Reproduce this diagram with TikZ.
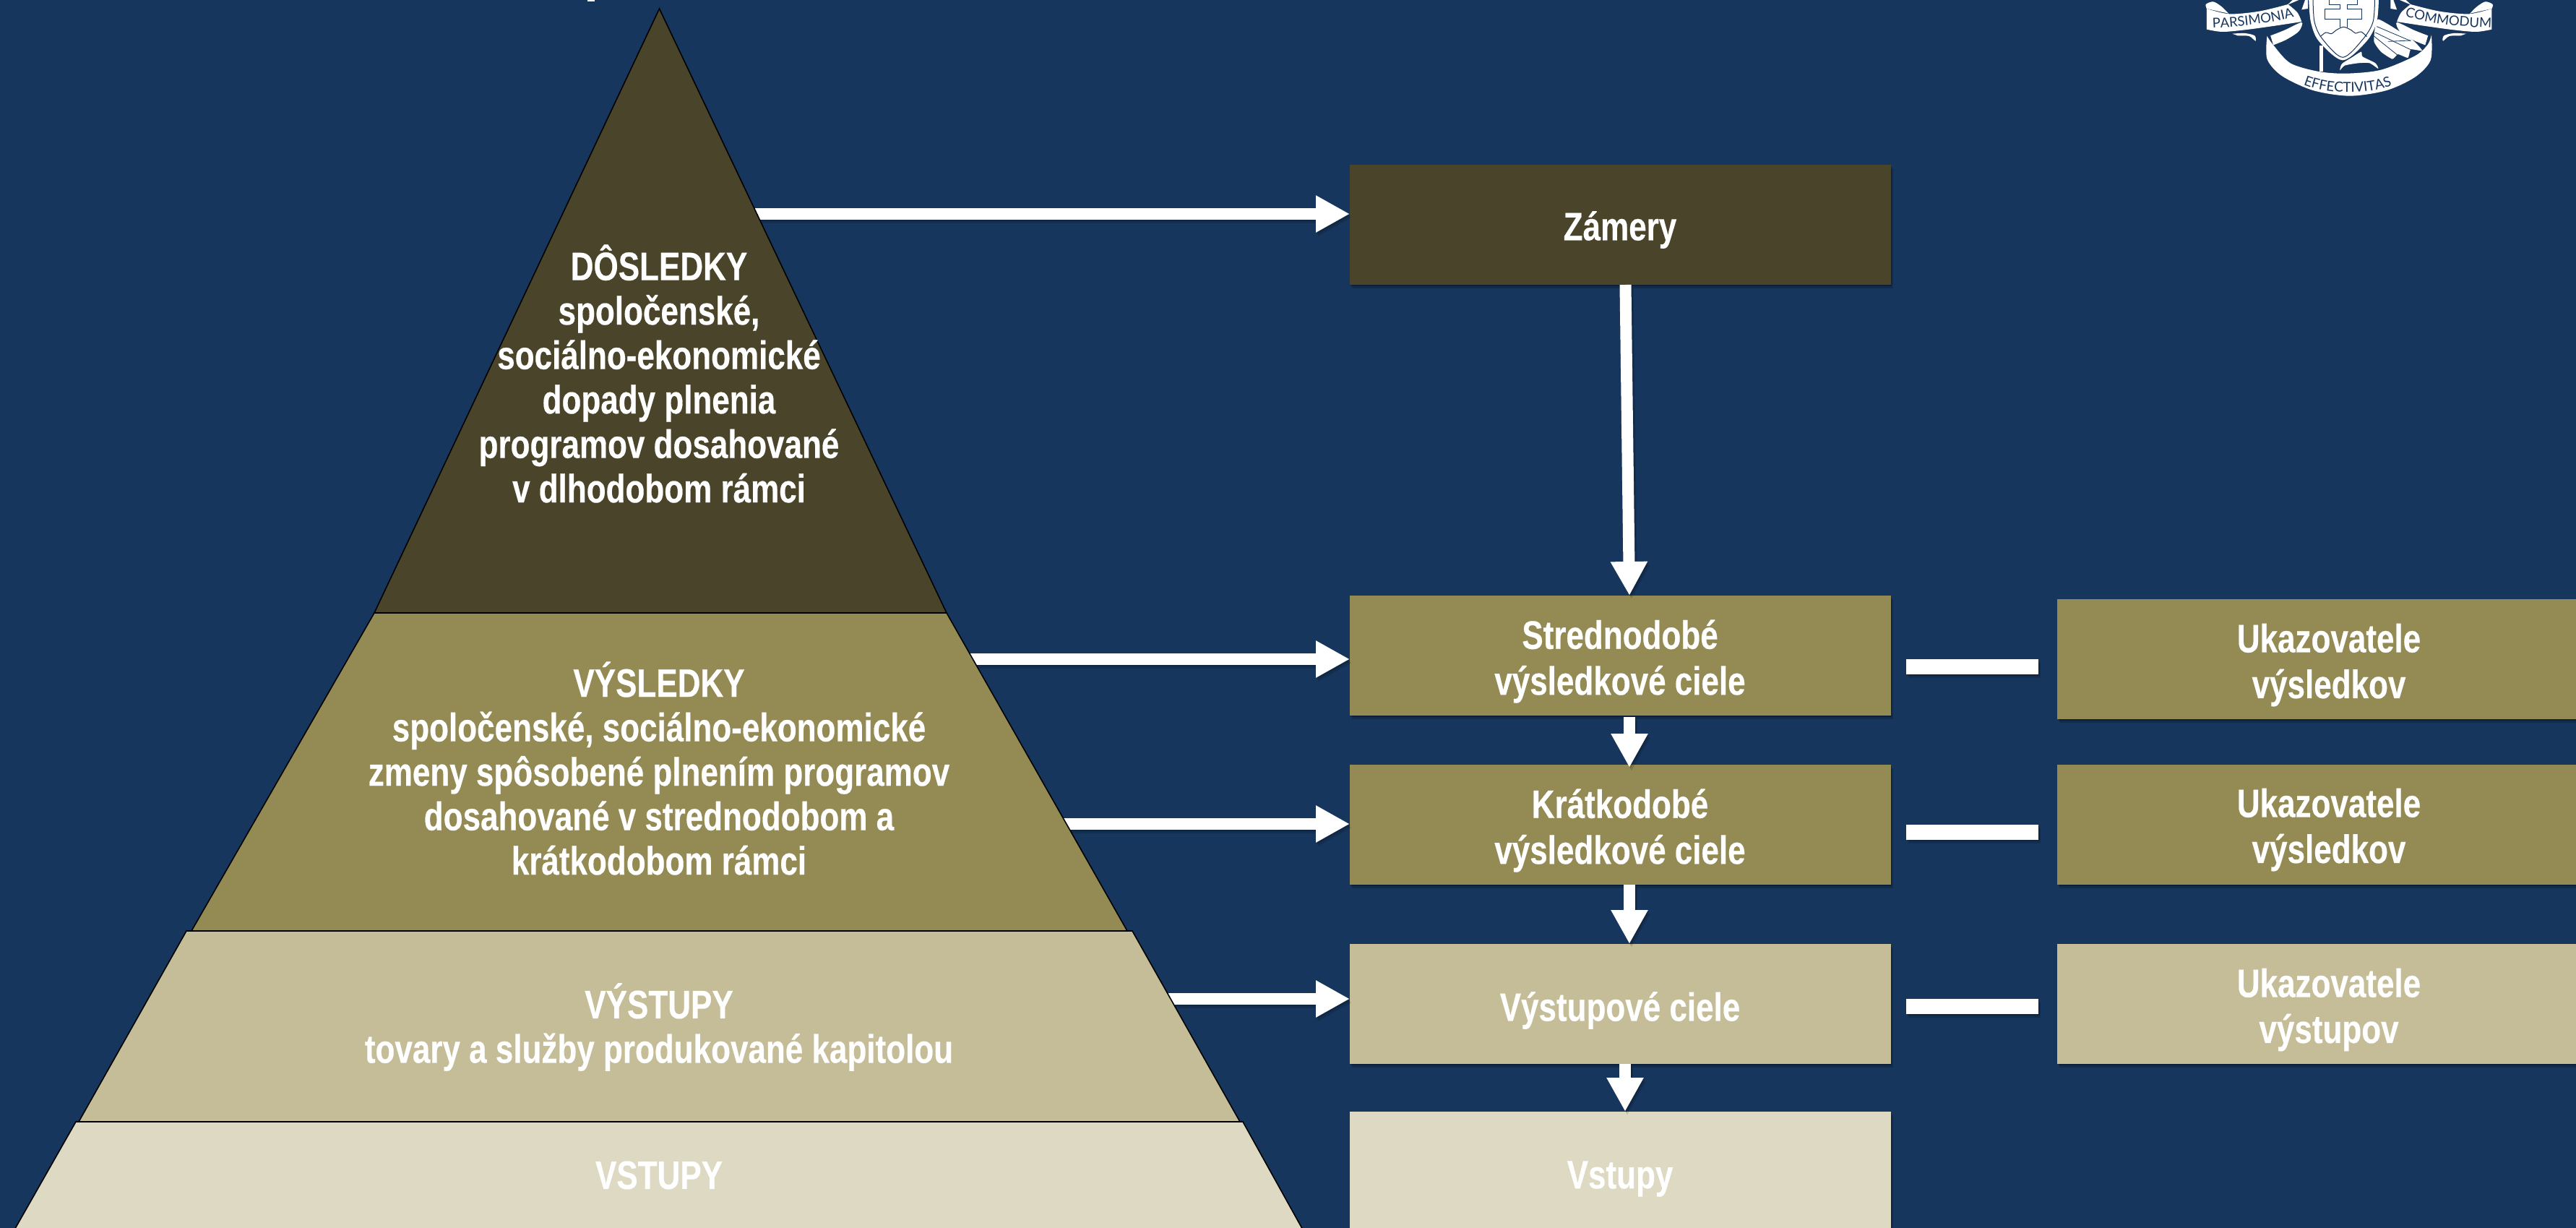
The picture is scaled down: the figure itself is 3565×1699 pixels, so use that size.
\documentclass[tikz,border=0pt]{standalone}
\usepackage{fontspec}
\usetikzlibrary{arrows.meta,shadows,decorations.text}
\newfontfamily\labfont[FakeStretch=0.80,FakeBold=0.35]{Liberation Sans}
\newfontfamily\emblemfont{Lato}
\definecolor{bgblue}{HTML}{17365D}
\definecolor{darkol}{HTML}{4A452A}
\definecolor{olive}{HTML}{948A54}
\definecolor{tan}{HTML}{C4BD97}
\definecolor{beige}{HTML}{DDD9C3}
\tikzset{
  lab/.style={text=white,align=center,inner sep=0pt,font=\labfont\bfseries\fontsize{55}{61.5}\selectfont},
  labbox/.style={lab,font=\labfont\bfseries\fontsize{55}{63.5}\selectfont},
  boxn/.style={rectangle,minimum width=#1,minimum height=166pt,inner sep=0pt,
     drop shadow={shadow xshift=1.5pt,shadow yshift=-2pt,opacity=.25,fill=black},
     drop shadow={shadow xshift=3pt,shadow yshift=-5pt,opacity=.18,fill=black}},
  layer/.style={draw=black,line width=1.6pt,line join=miter},
  conn/.style={draw=white,line width=16pt,-{Triangle[length=47pt,width=48pt]}},
  connshadow/.style={draw=black,opacity=.14,line width=16pt,-{Triangle[length=47pt,width=48pt]}},
  dashline/.style={draw=white,line width=21pt},
  dashshadow/.style={draw=black,opacity=.16,line width=21pt},
}
\newcommand\linkit[2]{%
  \draw[connshadow,transform canvas={xshift=1.5pt,yshift=-2pt}] (#1) -- (#2);
  \draw[connshadow,transform canvas={xshift=3pt,yshift=-5pt}] (#1) -- (#2);
  \draw[conn] (#1) -- (#2);}
\newcommand\dashit[2]{%
  \draw[dashshadow,transform canvas={xshift=1.5pt,yshift=-2pt}] (#1) -- (#2);
  \draw[dashshadow,transform canvas={xshift=3pt,yshift=-5pt}] (#1) -- (#2);
  \draw[dashline] (#1) -- (#2);}
\newcommand\emblemside{%
  \fill[white] plot[smooth] coordinates {(265,36)(345,58)(450,47)(552,18)}
     -- plot[smooth] coordinates {(552,18)(585,52)(600,90)} 
     -- plot[smooth] coordinates {(600,90)(500,108)(400,124)(320,132)(265,122)} -- cycle;
  \fill[white] plot[smooth] coordinates {(265,36)(262,18)(288,7)(318,28)(342,56)} -- cycle;
  \fill[white] plot[smooth] coordinates {(355,140)(400,138)(434,148)(437,170)(415,150)(375,148)} -- cycle;
  \fill[white] plot[smooth] coordinates {(490,148)(540,125)(600,93)(590,130)(545,165)(500,187)} -- cycle;
  \fill[white] (550,20) -- (590,0) -- (568,0) -- cycle;
  \fill[white] (600,40) -- (622,36) -- (622,0) -- (612,0) -- cycle;
}
\begin{document}
\begin{tikzpicture}[x=1pt,y=-1pt]
\useasboundingbox (0,0) rectangle (3565,1699);
\clip (0,0) rectangle (3565,1699);
\fill[bgblue] (0,0) rectangle (3565,1699);

% fragments of the cropped heading
\fill[white] (237,0) arc[x radius=13,y radius=3,start angle=180,end angle=360] -- cycle;
\fill[white] (813,0) rectangle (823,1.6);

% boxes
\node[boxn=749pt,fill=darkol] (zamery) at (2242,311) {};
\node[boxn=749pt,fill=olive] (stred) at (2242,907) {};
\node[boxn=749pt,fill=olive] (krat) at (2242,1141) {};
\node[boxn=749pt,fill=tan] (vyst) at (2242,1389) {};
\node[boxn=749pt,fill=beige,minimum height=240pt,anchor=north] (vstup) at (2242,1538) {};
\node[boxn=752pt,fill=olive] (uk1) at (3223,912) {};
\node[boxn=752pt,fill=olive] (uk2) at (3223,1141) {};
\node[boxn=752pt,fill=tan] (uk3) at (3223,1389) {};

\node[labbox] (zamerytx) at (2242,318) {Zámery};
\node[labbox] (stredtx) at (2242,915) {Strednodobé\\výsledkové ciele};
\node[labbox] (krattx) at (2242,1149) {Krátkodobé\\výsledkové ciele};
\node[labbox] (vysttx) at (2242,1398) {Výstupové ciele};
\node[labbox] (vstuptx) at (2242,1631) {Vstupy};
\node[labbox] (uk1tx) at (3223,920) {Ukazovatele\\výsledkov};
\node[labbox] (uk2tx) at (3223,1148) {Ukazovatele\\výsledkov};
\node[labbox] (uk3tx) at (3223,1397) {Ukazovatele\\výstupov};

% connector ends
\coordinate (h0a) at (1000,296);   \coordinate (h0b) at (1868,296);
\coordinate (h1a) at (1320,912);   \coordinate (h1b) at (1868,912);
\coordinate (h2a) at (1450,1140);  \coordinate (h2b) at (1868,1140);
\coordinate (h3a) at (1590,1382);  \coordinate (h3b) at (1868,1382);
\coordinate (v0a) at (2249.5,394); \coordinate (v0b) at (2255,824);
\coordinate (v1a) at (2255,992);   \coordinate (v1b) at (2255,1062);
\coordinate (v2a) at (2255,1224);  \coordinate (v2b) at (2255,1306);
\coordinate (v3a) at (2249,1472);  \coordinate (v3b) at (2249,1538);
\coordinate (d1a) at (2638,922);   \coordinate (d1b) at (2821,922);
\coordinate (d2a) at (2638,1151);  \coordinate (d2b) at (2821,1151);
\coordinate (d3a) at (2638,1392);  \coordinate (d3b) at (2821,1392);

\linkit{h0a}{h0b}\linkit{h1a}{h1b}\linkit{h2a}{h2b}\linkit{h3a}{h3b}
\linkit{v0a}{v0b}\linkit{v1a}{v1b}\linkit{v2a}{v2b}\linkit{v3a}{v3b}
\dashit{d1a}{d1b}\dashit{d2a}{d2b}\dashit{d3a}{d3b}

% pyramid
\path[fill=beige,layer] (105,1552) -- (1720,1552) -- (1805,1705) -- (18,1705) -- cycle;
\path[fill=tan,layer] (258,1288) -- (1567,1288) -- (1716,1552) -- (109,1552) -- cycle;
\path[fill=olive,layer] (518,848) -- (1310,848) -- (1560,1288) -- (265,1288) -- cycle;
\path[fill=darkol,layer] (912.5,12) -- (1310,848) -- (518,848) -- cycle;

\node[lab] (t1) at (912,517) {DÔSLEDKY\\spoločenské,\\sociálno-ekonomické\\dopady plnenia\\programov dosahované\\v dlhodobom rámci};
\node[lab] (t2) at (912,1063) {VÝSLEDKY\\spoločenské, sociálno-ekonomické\\zmeny spôsobené plnením programov\\dosahované v strednodobom a\\krátkodobom rámci};
\node[lab] (t3) at (912,1421) {VÝSTUPY\\tovary a služby produkované kapitolou};
\node[lab] (t4) at (912,1626) {VSTUPY};

% emblem
\begin{scope}[shift={(2950,0)},x=0.39216pt,y=-0.33333pt]
  \emblemside
  \begin{scope}[shift={(1536,0)},xscale=-1]
    \emblemside
  \end{scope}
  \fill[white] plot[smooth] coordinates {(478,150)(478,245)(530,315)(640,375)(770,398)(900,375)(1000,320)(1055,250)(1058,145)}
     -- plot[smooth] coordinates {(1058,145)(1045,185)(1000,232)(880,290)(760,305)(660,297)(560,262)(500,187)(478,150)} -- cycle;
  \fill[white] (662,190) rectangle (676,297);
  \fill[white] plot[smooth cycle,tension=.3] coordinates {(870,80)(990,165)(1025,210)(985,205)(975,240)(940,225)(920,245)(880,215)(855,170)};
  \draw[bgblue,line width=.8pt] (865,110) -- (985,170);
  \draw[bgblue,line width=.8pt] (860,135) -- (1000,215);
  \draw[bgblue,line width=.8pt] (855,150) -- (945,235);
  \draw[bgblue,line width=.8pt] (905,172) -- (985,168);
  \fill[white] plot[smooth cycle,tension=.4] coordinates {(775,240)(742,265)(735,292)(752,272)(800,262)(840,262)(870,285)(860,262)(815,235)(810,215)};
  \fill[white] plot[smooth] coordinates {(625,-5)(632,90)(660,170)(745,250)(830,170)(865,90)(872,-5)} -- cycle;
  \draw[bgblue,line width=1pt] plot[smooth] coordinates {(640,-5)(645,90)(672,160)(745,238)(818,160)(852,90)(858,-5)};
  \draw[bgblue,line width=1pt] (698,-5) -- (698,20) -- (735,20) -- (735,38) -- (683,38) -- (683,80) -- (735,80) -- (735,115);
  \draw[bgblue,line width=1pt] (798,-5) -- (798,20) -- (761,20) -- (761,38) -- (812,38) -- (812,80) -- (761,80) -- (761,115);
  \draw[bgblue,line width=1pt] plot[smooth] coordinates {(666,152)(685,135)(705,140)(722,125)(748,112)(775,125)(790,138)(810,132)(830,152)};
\end{scope}
\begin{scope}[x=1pt,y=1pt]
  \path[decorate,decoration={text along path,text align=center,
     text={|\emblemfont\fontsize{18.5}{18.5}\selectfont\color{bgblue}|PARSIMONIA}}]
     (3064,-38.5) .. controls (3100,-37) and (3140,-33) .. (3173,-24);
  \path[decorate,decoration={text along path,text align=center,
     text={|\emblemfont\fontsize{18.5}{18.5}\selectfont\color{bgblue}|COMMODUM}}]
     (3330,-23) .. controls (3365,-33) and (3405,-37) .. (3446,-38.5);
  \path[decorate,decoration={text along path,text align=center,
     text={|\emblemfont\fontsize{19}{19}\selectfont\color{bgblue}|EFFECTIVITAS}}]
     (3190,-118) .. controls (3225,-131) and (3272,-131) .. (3308,-119);
\end{scope}
\end{tikzpicture}
\end{document}
